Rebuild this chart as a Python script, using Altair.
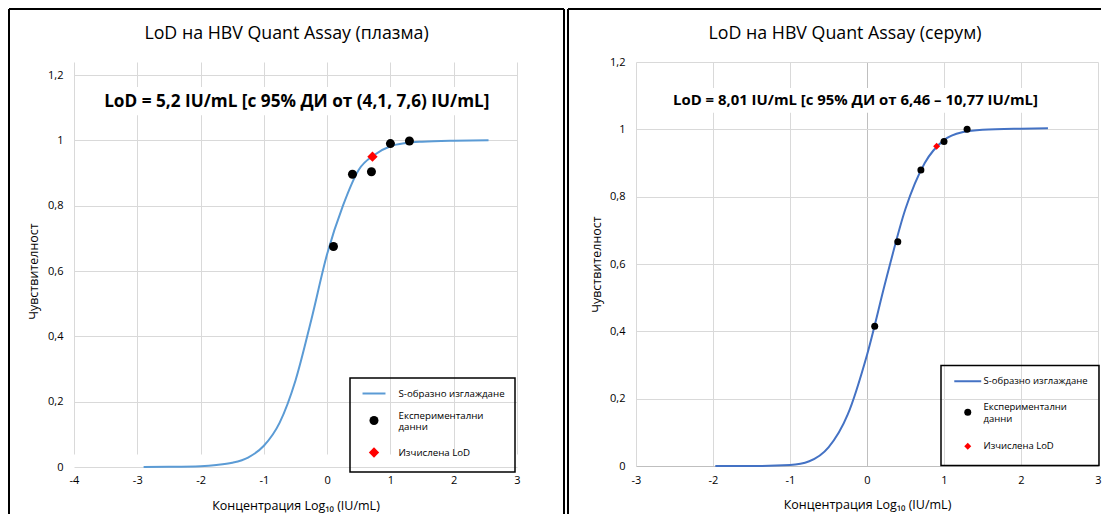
import altair as alt
import pandas as pd

FONT = "Open Sans"
GRID = "#D9D9D9"
SERIES = ["S-образно изглаждане", "Експериментални данни", "Изчислена LoD"]
Y_TICKS = [0, 0.2, 0.4, 0.6, 0.8, 1.0, 1.2]
X_TITLE = "Концентрация Log₁₀ (IU/mL)"
Y_TITLE = "Чувствителност"

# ---------------- plasma (left panel) ----------------
pl_title = "LoD на HBV Quant Assay (плазма)"
pl_note = "LoD = 5,2 IU/mL [с 95% ДИ от (4,1, 7,6) IU/mL]"
pl_curve_x = [-2.9, -2.5, -2.0, -1.75, -1.5, -1.25, -1.0, -0.75, -0.5, -0.25,
              0.0, 0.25, 0.5, 0.75, 1.0, 1.25, 1.5, 2.0, 2.55]
pl_curve_y = [0.0, 0.0005, 0.0025, 0.006, 0.013, 0.029, 0.065, 0.136, 0.265, 0.451,
              0.652, 0.80, 0.91, 0.956, 0.982, 0.992, 0.996, 0.999, 1.0]
pl_exp_x = [0.1, 0.4, 0.7, 1.0, 1.3]
pl_exp_y = [0.675, 0.896, 0.904, 0.99, 0.998]
pl_lod_x = [0.716]
pl_lod_y = [0.95]
pl_x_ticks = [-4, -3, -2, -1, 0, 1, 2, 3]

# ---------------- serum (right panel) ----------------
sr_title = "LoD на HBV Quant Assay (серум)"
sr_note = "LoD = 8,01 IU/mL [с 95% ДИ от 6,46 – 10,77 IU/mL]"
sr_curve_x = [-1.97, -1.5, -1.0, -0.75, -0.5, -0.25, 0.0, 0.25, 0.5, 0.75,
              1.0, 1.25, 1.5, 2.0, 2.35]
sr_curve_y = [0.0, 0.0, 0.003, 0.014, 0.055, 0.153, 0.33, 0.556, 0.764, 0.9,
              0.968, 0.992, 0.999, 1.002, 1.003]
sr_exp_x = [0.1, 0.4, 0.7, 1.0, 1.3]
sr_exp_y = [0.415, 0.666, 0.879, 0.964, 1.0]
sr_lod_x = [0.904]
sr_lod_y = [0.95]
sr_x_ticks = [-3, -2, -1, 0, 1, 2, 3]

LABEL_EXPR = ("datum.label == 'Експериментални данни' ? "
              "['Експериментални', 'данни'] : datum.label")
BASELINE_EXPR = ("datum.label == 'Експериментални данни' ? 'bottom' : 'middle'")


def panel(title, note, note_pos, box, cx, cy, ex, ey, lx, ly, xt, curve_color,
          w, h, y_range, pt_size, line_path, diamond_path, leg, frame, title_dx,
          zero_dark, note_size, ytitle_pad, xlab_pad, xtitle_pad):
    curve = pd.DataFrame({"x": cx, "y": cy, "series": SERIES[0]})
    pts = pd.DataFrame({"x": ex + lx, "y": ey + ly,
                        "series": [SERIES[1]] * len(ex) + [SERIES[2]] * len(lx)})
    notes = pd.DataFrame({"x": [note_pos[0]], "y": [note_pos[1]], "t": [note]})
    boxes = pd.DataFrame({"x1": [box[0]], "x2": [box[1]], "y1": [box[2]], "y2": [box[3]]})
    one = pd.DataFrame({"k": [0]})

    if zero_dark:
        gcol = alt.condition("datum.value === 0", alt.value("#BFBFBF"), alt.value(GRID))
    else:
        gcol = GRID

    xaxis = alt.Axis(values=xt, labelExpr="datum.value + ''", grid=True,
                     gridColor=gcol, gridWidth=1, domain=False, ticks=False,
                     tickSize=0, labelFlush=False, labelPadding=xlab_pad,
                     labelFont=FONT, labelFontSize=11,
                     labelColor="black", title=X_TITLE, titleFont=FONT,
                     titleFontSize=12.5, titleFontWeight="normal",
                     titleColor="black", titlePadding=xtitle_pad)
    yaxis = alt.Axis(values=Y_TICKS,
                     labelExpr="replace(format(datum.value, '.1~f'), '.', ',')",
                     grid=True, gridColor=gcol, gridWidth=1, domain=False,
                     ticks=False, tickSize=0, labelFlush=False, labelPadding=11,
                     labelFont=FONT, labelFontSize=11, labelColor="black",
                     title=Y_TITLE, titleFont=FONT, titleFontSize=12.5,
                     titleFontWeight="normal", titleColor="black",
                     titlePadding=ytitle_pad)
    xs = alt.Scale(domain=[xt[0], xt[-1]], nice=False, zero=False)
    if y_range is None:
        ys = alt.Scale(domain=[0, 1.2], nice=False, zero=False)
    else:
        ys = alt.Scale(domain=[0, 1.2], nice=False, zero=False, range=y_range)

    def X(f):
        return alt.X(f"{f}:Q", scale=xs, axis=xaxis)

    def Y(f):
        return alt.Y(f"{f}:Q", scale=ys, axis=yaxis)

    legend = alt.Legend(title=None, orient="none", legendX=leg["x"], legendY=leg["y"],
                        strokeColor="black", padding=leg["pad"],
                        rowPadding=leg["row"], labelOffset=leg["loff"],
                        symbolOffset=leg["soff"], symbolSize=pt_size,
                        symbolStrokeWidth=2, labelFont=FONT,
                        labelFontSize=leg["fs"],
                        labelColor="black", labelLimit=300, labelExpr=LABEL_EXPR,
                        labelBaseline=alt.ExprRef(expr=BASELINE_EXPR))
    stroke_sc = alt.Scale(domain=SERIES, range=[curve_color, "transparent", "transparent"])
    fill_sc = alt.Scale(domain=SERIES, range=[curve_color, "black", "red"])
    shape_sc = alt.Scale(domain=SERIES, range=[line_path, "circle", diamond_path])

    rect = alt.Chart(boxes).mark_rect(color="white").encode(
        x=X("x1"), x2="x2", y=Y("y1"), y2="y2")
    line = alt.Chart(curve).mark_line(strokeWidth=2, interpolate="monotone").encode(
        x=X("x"), y=Y("y"),
        stroke=alt.Stroke("series:N", scale=stroke_sc, legend=legend))
    points = alt.Chart(pts).mark_point(filled=True, opacity=1, size=pt_size).encode(
        x=X("x"), y=Y("y"),
        fill=alt.Fill("series:N", scale=fill_sc, legend=legend),
        shape=alt.Shape("series:N", scale=shape_sc, legend=legend))
    text = alt.Chart(notes).mark_text(font=FONT, fontSize=note_size, fontWeight="bold",
                                      color="black", align="center",
                                      baseline="middle").encode(
        x=X("x"), y=Y("y"), text="t:N")

    fl, ft, fr, fb, right_side = frame
    rules = [
        alt.Chart(one).mark_rule(color="black", strokeWidth=2).encode(
            x=alt.value(fl), y=alt.value(ft), y2=alt.value(fb)),
        alt.Chart(one).mark_rule(color="black", strokeWidth=2).encode(
            y=alt.value(ft), x=alt.value(fl), x2=alt.value(fr)),
    ]
    if right_side:
        rules.append(alt.Chart(one).mark_rule(color="black", strokeWidth=2).encode(
            x=alt.value(fr), y=alt.value(ft), y2=alt.value(fb)))

    return alt.layer(rect, line, points, text, *rules).properties(
        width=w, height=h,
        title=alt.TitleParams(text=title, font=FONT, fontSize=17.8,
                              fontWeight="normal", color="black", anchor="middle",
                              offset=-49, baseline="alphabetic", dx=title_dx))


left = panel(pl_title, pl_note, (-0.48, 1.117), (-3.55, 2.65, 1.077, 1.163),
             pl_curve_x, pl_curve_y, pl_exp_x, pl_exp_y, pl_lod_x, pl_lod_y,
             pl_x_ticks, "#5B9BD5", 443, 405, [405, 13], 81, "M-2.55,0L2.55,0",
             "M-1.15,0L0,-1.15L1.15,0L0,1.15Z",
             {"x": 276, "y": 316, "pad": 10, "row": 11, "loff": 19, "soff": 8.5,
              "fs": 9.7},
             (-65, -53, 490, 452, True), -9, False, 17.2, 7, 7, 14)

right = panel(sr_title, sr_note, (-0.15, 1.083), (-2.6, 2.35, 1.049, 1.123),
              sr_curve_x, sr_curve_y, sr_exp_x, sr_exp_y, sr_lod_x, sr_lod_y,
              sr_x_ticks, "#4472C4", 462, 404, None, 49, "M-3.85,0L3.85,0",
              "diamond",
              {"x": 305, "y": 303.5, "pad": 11, "row": 15, "loff": 11, "soff": 11,
               "fs": 9.5},
              (-68, -53, 465, 452, False), -22, True, 14.9, 6, 8, 13)

chart = alt.hconcat(left, right, spacing=2).properties(
    padding={"left": 0, "top": 0, "right": 0, "bottom": 0}
).configure_view(stroke=None).configure_legend(strokeWidth=1.5).resolve_scale(
    x="independent", y="independent", fill="independent",
    stroke="independent", shape="independent")

chart.save("out.html", embed_options={"renderer": "svg", "actions": False})
